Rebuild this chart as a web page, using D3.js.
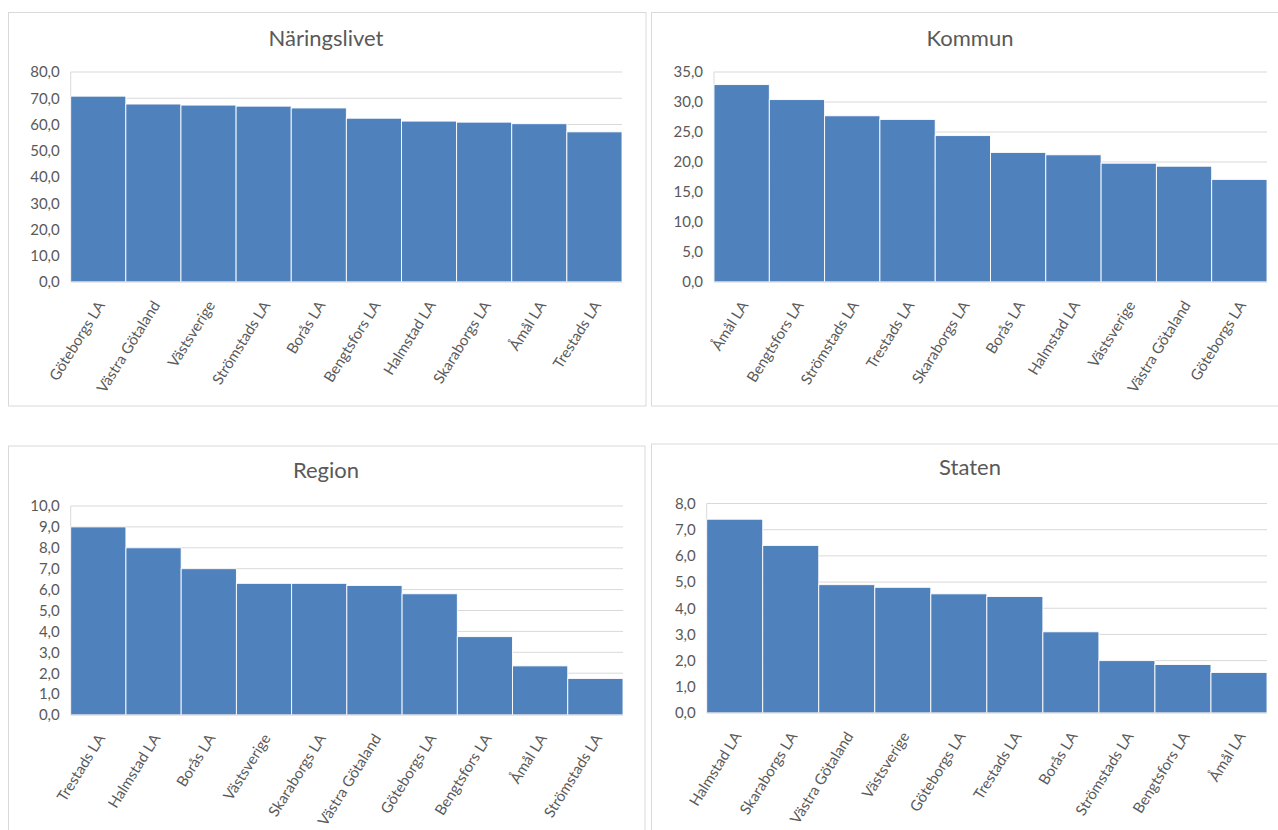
<!DOCTYPE html>
<html>
<head>
<meta charset="utf-8">
<script src="https://cdn.jsdelivr.net/npm/d3@7/dist/d3.min.js"></script>
<style>
  html, body { margin: 0; padding: 0; background: #ffffff; }
  svg { display: block; }
  text { font-family: Lato, "Open Sans", sans-serif; fill: #595959; }
</style>
</head>
<body>
<svg id="chart" width="1278" height="830"></svg>
<script>
// ---- Data ----
const naringCats = ["Göteborgs LA","Västra Götaland","Västsverige","Strömstads LA","Borås LA","Bengtsfors LA","Halmstad LA","Skaraborgs LA","Åmål LA","Trestads LA"];
const naringVals = [70.8, 67.8, 67.4, 67.0, 66.3, 62.4, 61.3, 60.9, 60.3, 57.2];
const naringTicks = [0, 10, 20, 30, 40, 50, 60, 70, 80];

const kommunCats = ["Åmål LA","Bengtsfors LA","Strömstads LA","Trestads LA","Skaraborgs LA","Borås LA","Halmstad LA","Västsverige","Västra Götaland","Göteborgs LA"];
const kommunVals = [32.9, 30.4, 27.7, 27.1, 24.4, 21.6, 21.2, 19.8, 19.3, 17.1];
const kommunTicks = [0, 5, 10, 15, 20, 25, 30, 35];

const regionCats = ["Trestads LA","Halmstad LA","Borås LA","Västsverige","Skaraborgs LA","Västra Götaland","Göteborgs LA","Bengtsfors LA","Åmål LA","Strömstads LA"];
const regionVals = [9.0, 8.0, 7.0, 6.3, 6.3, 6.2, 5.8, 3.75, 2.35, 1.75];
const regionTicks = [0, 1, 2, 3, 4, 5, 6, 7, 8, 9, 10];

const statenCats = ["Halmstad LA","Skaraborgs LA","Västra Götaland","Västsverige","Göteborgs LA","Trestads LA","Borås LA","Strömstads LA","Bengtsfors LA","Åmål LA"];
const statenVals = [7.4, 6.4, 4.9, 4.8, 4.55, 4.45, 3.1, 2.0, 1.85, 1.55];
const statenTicks = [0, 1, 2, 3, 4, 5, 6, 7, 8];

const titles = ["Näringslivet", "Kommun", "Region", "Staten"];

// ---- Layout ----
const panels = [
  { title: titles[0], cats: naringCats, vals: naringVals, ticks: naringTicks,
    box: [8.5, 12.5, 646, 406], px: [70.7, 622], py: [72, 282], ty: 40, tx: 326 },
  { title: titles[1], cats: kommunCats, vals: kommunVals, ticks: kommunTicks,
    box: [651.5, 12.5, 1290, 406], px: [714, 1267], py: [72, 282], ty: 40, tx: 970 },
  { title: titles[2], cats: regionCats, vals: regionVals, ticks: regionTicks,
    box: [8.5, 446, 645, 850], px: [70.7, 623], py: [506, 715], ty: 472, tx: 326 },
  { title: titles[3], cats: statenCats, vals: statenVals, ticks: statenTicks,
    box: [651.5, 444, 1290, 850], px: [706.7, 1267], py: [503.5, 713], ty: 469, tx: 970 }
];

const svg = d3.select("#chart");
const fmt = v => d3.format(".1f")(v).replace(".", ",");

panels.forEach(p => {
  const g = svg.append("g");
  const [x0, y0, x1, y1] = p.box;
  g.append("rect")
    .attr("x", x0).attr("y", y0)
    .attr("width", x1 - x0).attr("height", y1 - y0)
    .attr("fill", "#ffffff").attr("stroke", "#d9d9d9").attr("stroke-width", 1);

  g.append("text")
    .attr("x", p.tx)
    .attr("y", p.ty)
    .attr("text-anchor", "middle")
    .attr("dominant-baseline", "middle")
    .style("font-size", "22px")
    .text(p.title);

  const x = d3.scaleBand().domain(p.cats).range(p.px).paddingInner(0).paddingOuter(0);
  const y = d3.scaleLinear().domain([0, d3.max(p.ticks)]).range([p.py[1], p.py[0]]);

  // gridlines
  g.append("g").selectAll("line").data(p.ticks).join("line")
    .attr("x1", p.px[0]).attr("x2", p.px[1])
    .attr("y1", d => y(d)).attr("y2", d => y(d))
    .attr("stroke", "#d9d9d9").attr("stroke-width", 1);

  // vertical axis line
  g.append("line")
    .attr("x1", p.px[0]).attr("x2", p.px[0])
    .attr("y1", y(d3.max(p.ticks))).attr("y2", y(0))
    .attr("stroke", "#d9d9d9").attr("stroke-width", 1);

  // y axis labels
  const yAxis = d3.axisLeft(y).tickValues(p.ticks).tickFormat(fmt).tickSize(0).tickPadding(11);
  const ya = g.append("g").attr("transform", `translate(${p.px[0]},0)`).call(yAxis);
  ya.select(".domain").remove();
  ya.selectAll("text").style("font-size", "15px").attr("fill", "#595959")
    .style("font-family", "Lato, 'Open Sans', sans-serif");

  // bars
  g.append("g").selectAll("rect").data(p.vals).join("rect")
    .attr("x", (d, i) => x(p.cats[i]))
    .attr("width", x.bandwidth())
    .attr("y", d => y(d))
    .attr("height", d => y(0) - y(d))
    .attr("fill", "#4f81bd")
    .attr("stroke", "#ffffff").attr("stroke-width", 0.9);

  // baseline
  g.append("line")
    .attr("x1", p.px[0]).attr("x2", p.px[1])
    .attr("y1", y(0)).attr("y2", y(0))
    .attr("stroke", "#d9d9d9").attr("stroke-width", 1);

  // x labels
  const xAxis = d3.axisBottom(x).tickSize(0).tickPadding(0);
  const xa = g.append("g").attr("transform", `translate(0,${y(0)})`).call(xAxis);
  xa.select(".domain").remove();
  xa.selectAll("text")
    .attr("y", 0).attr("dy", "0")
    .attr("transform", "translate(4,21) rotate(-58)")
    .attr("text-anchor", "end")
    .attr("dominant-baseline", "middle")
    .attr("fill", "#595959")
    .style("font-size", "15px")
    .style("font-family", "Lato, 'Open Sans', sans-serif");
});
</script>
</body>
</html>
